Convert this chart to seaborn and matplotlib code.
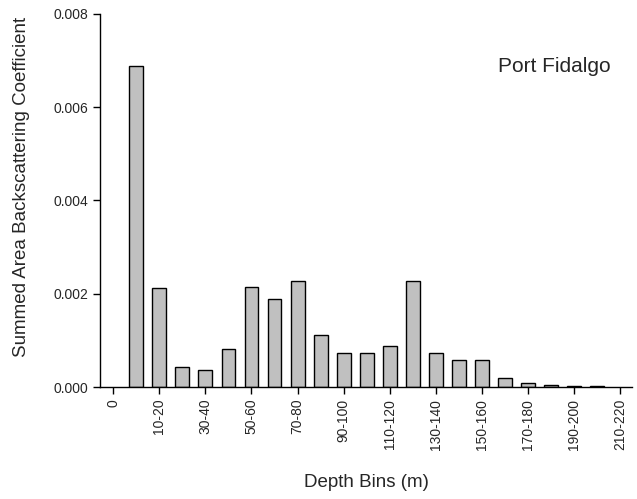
import matplotlib
matplotlib.use("Agg")
import matplotlib.pyplot as plt
import seaborn as sns
import pandas as pd

# Depth bins (m) and summed area backscattering coefficient
depth_bins = ["0-10", "10-20", "20-30", "30-40", "40-50", "50-60", "60-70",
              "70-80", "80-90", "90-100", "100-110", "110-120", "120-130",
              "130-140", "140-150", "150-160", "160-170", "170-180",
              "180-190", "190-200", "200-210"]
sa_values = [0.00688, 0.00213, 0.00044, 0.00036, 0.00081, 0.00215, 0.00189,
             0.00227, 0.00111, 0.00074, 0.00072, 0.00088, 0.00228, 0.00074,
             0.00059, 0.00057, 0.00019, 0.00008, 0.00005, 0.00003, 0.00002]

# full axis order, including the empty end categories
axis_order = ["0"] + depth_bins + ["210-220"]
y_ticks = [0.000, 0.002, 0.004, 0.006, 0.008]

df = pd.DataFrame({"bin": depth_bins, "sa": sa_values})

sns.set_style("ticks")
plt.rcParams["font.family"] = ["Liberation Sans", "DejaVu Sans"]

fig = plt.figure(figsize=(6.37, 4.99), dpi=100)
ax = fig.add_axes([0.157, 0.2244, 0.835, 0.7476])

sns.barplot(data=df, x="bin", y="sa", order=axis_order, color="#c0c0c0",
            saturation=1, width=0.6, edgecolor="black", linewidth=1.0, ax=ax)

ax.set_xlim(-0.57, 22.5)
ax.set_ylim(0, 0.008)
ax.set_yticks(y_ticks)
ax.set_yticklabels([f"{v:.3f}" for v in y_ticks], fontsize=10)
tick_pos = list(range(0, len(axis_order), 2))
ax.set_xticks(tick_pos)
ax.set_xticklabels([axis_order[i] for i in tick_pos], rotation=90, fontsize=10)
ax.tick_params(direction="out", length=5, width=1, color="black")

for side in ["top", "right"]:
    ax.spines[side].set_visible(False)
for side in ["left", "bottom"]:
    ax.spines[side].set_color("black")
    ax.spines[side].set_linewidth(1)

ax.set_xlabel("Depth Bins (m)", fontsize=13.5, va="center", ha="center")
ax.xaxis.set_label_coords(0.501, -0.257)
ax.set_ylabel("Summed Area Backscattering Coefficient", fontsize=13.5,
              va="center", ha="center")
ax.yaxis.set_label_coords(-0.147, 0.536)
ax.text(0.855, 0.858, "Port Fidalgo", transform=ax.transAxes, fontsize=15,
        ha="center", va="center")

fig.savefig("out.png", dpi=100)
